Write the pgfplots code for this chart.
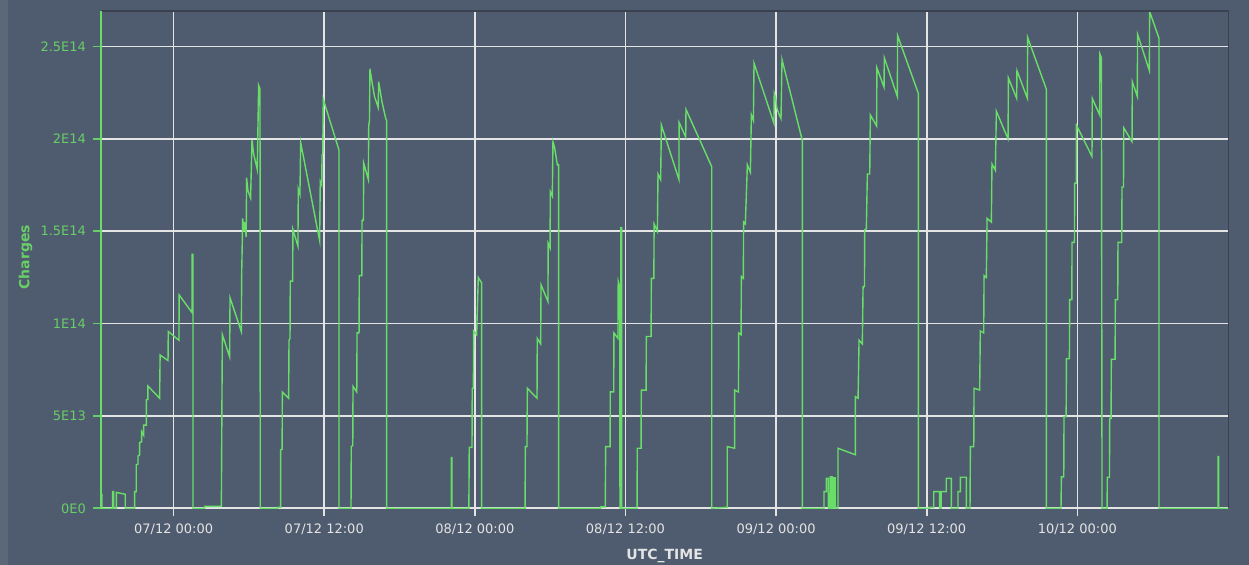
\documentclass[border=0pt]{standalone}
\usepackage{pgfplots}
\pgfplotsset{compat=1.18}
\usepackage{fontspec}
\setmainfont{DejaVu Sans}

\definecolor{panel}{RGB}{79,91,110}
\definecolor{paneledge}{RGB}{92,103,120}
\definecolor{chargegreen}{RGB}{104,222,104}
\definecolor{labelgreen}{RGB}{104,206,104}
\definecolor{gridwhite}{RGB}{228,228,228}
\definecolor{framedark}{RGB}{58,66,80}

\begin{document}
\begin{tikzpicture}
\useasboundingbox (0,0) rectangle (624.5pt,282.5pt);
\fill[panel] (0,0) rectangle (624.5pt,282.5pt);
\fill[paneledge] (0,0) rectangle (4pt,282.5pt);
\begin{axis}[
  at={(50.5pt,28.35pt)}, anchor=south west,
  width=563.65pt, height=248.65pt, scale only axis,
  xmin=-5.79, xmax=84.03, ymin=0, ymax=26.93,
  clip mode=individual,
  axis line style={draw=none},
  xtick={0,12,24,36,48,60,72},
  xticklabels={07/12 00:00,07/12 12:00,08/12 00:00,08/12 12:00,09/12 00:00,09/12 12:00,10/12 00:00},
  ytick={0,5,10,15,20,25},
  yticklabels={0E0,5E13,1E14,1.5E14,2E14,2.5E14},
  xtick pos=bottom, ytick pos=left,
  tick align=outside,
  major tick length=4pt,
  xtick style={draw=gridwhite, line width=0.8pt},
  ytick style={draw=labelgreen, line width=0.8pt},
  grid=major,
  major grid style={draw=gridwhite, line width=0.8pt},
  ticklabel style={font=\fontsize{6.5}{7.5}\selectfont},
  xticklabel style={text=gridwhite},
  yticklabel style={text=labelgreen},
  xlabel={UTC\_TIME}, ylabel={Charges},
  xlabel style={font=\bfseries\fontsize{7}{8}\selectfont, text=gridwhite,
    at={(axis description cs:0.5,-0.096)}, anchor=center},
  ylabel style={font=\bfseries\fontsize{7}{8}\selectfont, text=labelgreen,
    at={(axis description cs:-0.067,0.505)}, anchor=center},
]
\addplot[chargegreen, line width=0.7pt, sharp plot] coordinates {
(-5.79,0.76)(-5.71,0.76)(-5.71,0)
(-4.86,0)(-4.86,0.9)(-4.78,0.9)(-4.78,0)
(-4.57,0)(-4.57,0.86)(-3.86,0.76)(-3.86,0)
(-3.11,0)(-3.11,0.9)(-2.98,0.9)(-2.98,2.35)(-2.84,2.4)(-2.84,2.83)(-2.71,2.9)(-2.71,3.56)(-2.55,3.6)(-2.55,4.15)(-2.39,3.95)(-2.39,4.5)(-2.18,4.5)(-2.18,5.87)(-2.05,5.9)(-2.05,6.62)(-1.12,5.96)(-1.08,8.3)(-0.45,8.0)(-0.43,9.57)(0.42,9.1)(0.44,11.55)(1.46,10.6)(1.46,13.75)(1.54,13.75)(1.54,0)
(2.47,0)(2.47,0.1)(3.80,0.1)(3.85,6.26)(3.88,9.4)(4.46,8.2)(4.49,11.4)(5.39,9.57)(5.42,12.7)(5.50,15.7)(5.58,15.0)(5.64,15.5)(5.78,14.7)(5.81,17.9)(5.92,17.2)(6.13,16.8)(6.24,19.95)(6.37,19.2)(6.66,18.35)(6.77,22.9)(6.88,22.7)(6.90,0)
(8.26,0)(8.26,0.05)(8.52,0.05)(8.52,3.16)(8.64,3.2)(8.66,6.3)(9.16,5.96)(9.19,9.1)(9.27,9.2)(9.29,12.3)(9.48,12.3)(9.50,15.1)(9.90,14.2)(9.93,17.3)(10.06,17.0)(10.12,19.8)(11.63,14.5)(11.68,17.7)(11.80,17.5)(11.82,19.1)(11.88,19.2)(11.92,22.15)(13.17,19.4)(13.17,0)
(14.13,0)(14.15,3.34)(14.27,3.4)(14.29,6.6)(14.59,6.3)(14.61,9.5)(14.77,9.5)(14.79,12.6)(14.99,12.6)(15.01,15.6)(15.12,15.6)(15.14,18.7)(15.51,17.8)(15.54,20.7)(15.60,21.0)(15.64,23.8)(15.8,23.1)(16.0,22.3)(16.3,21.7)(16.33,23.1)(16.6,22.0)(16.9,21.1)(16.97,21.0)(16.97,0)
(22.12,0)(22.12,2.75)(22.17,2.75)(22.17,0)(23.52,0)(23.55,3.3)(23.77,3.3)(23.79,6.5)(23.88,6.5)(23.90,9.6)(24.14,9.4)(24.27,12.5)(24.54,12.2)(24.54,0)
(28.00,0)(28.02,3.34)(28.15,3.34)(28.18,6.5)(28.95,5.96)(28.97,9.2)(29.24,8.9)(29.27,12.1)(29.82,11.2)(29.84,14.35)(29.99,14.1)(30.01,17.15)(30.17,16.9)(30.22,19.85)(30.36,19.5)(30.57,18.6)(30.67,18.6)(30.67,0)
(34.02,0)(34.02,0.08)(34.39,0.08)(34.42,3.34)(34.77,3.34)(34.79,6.3)(35.06,6.3)(35.08,9.5)(35.40,9.2)(35.42,12.3)(35.54,12.0)(35.56,0)(35.62,0)(35.62,15.2)(35.70,15.2)(35.70,0)
(36.92,0)(36.94,3.25)(37.24,3.25)(37.26,6.4)(37.64,6.4)(37.66,9.3)(38.04,9.3)(38.06,12.45)(38.26,12.45)(38.28,15.4)(38.54,15.0)(38.59,18.1)(38.80,17.8)(38.86,20.75)(40.26,17.8)(40.27,20.9)(40.80,20.1)(40.82,21.6)(42.87,18.5)(42.87,0)
(44.03,0.05)(44.11,0.05)(44.11,3.34)(44.70,3.25)(44.70,6.4)(45.00,6.3)(45.02,9.5)(45.21,9.4)(45.23,12.55)(45.39,12.45)(45.41,15.5)(45.55,15.4)(45.71,18.6)(45.95,18.2)(46.03,21.3)(46.19,21.0)(46.24,24.1)(47.83,20.85)(47.85,22.47)(47.97,22.2)(48.05,21.7)(48.20,21.4)(48.39,21.1)(48.47,24.3)(50.06,20.0)(50.09,20.0)(50.09,0)
(51.82,0)(51.82,0.9)(52.00,0.9)(52.00,1.62)(52.16,1.62)(52.16,0)(52.30,0)(52.32,1.7)(52.36,1.7)(52.36,0)(52.40,0)(52.42,1.7)(52.46,1.7)(52.46,0)(52.50,0)(52.52,1.65)(52.58,1.65)(52.58,0)(52.62,1.65)(52.70,1.65)(52.72,0)(52.93,0)(52.93,3.25)(54.31,2.9)(54.31,6.05)(54.53,5.96)(54.61,9.1)(54.87,8.9)(54.93,12.0)(55.04,12.0)(55.06,15.07)(55.19,15.15)(55.27,18.1)(55.46,18.1)(55.51,21.3)(56.01,20.7)(56.03,23.85)(56.60,22.8)(56.62,24.4)(57.66,22.3)(57.68,25.6)(59.33,22.47)(59.33,0)
(60.24,0)(60.24,0.05)(60.56,0.05)(60.56,0.9)(61.03,0.9)(61.03,0)(61.16,0)(61.16,0.9)(61.56,0.9)(61.56,1.62)(61.96,1.62)(61.96,0)(62.49,0)(62.49,0.9)(62.68,0.9)(62.68,1.68)(63.16,1.68)(63.16,0)(63.45,0)(63.48,3.34)(63.75,3.34)(63.77,6.5)(64.22,6.4)(64.27,9.6)(64.54,9.5)(64.57,12.6)(64.75,12.5)(64.81,15.7)(65.15,15.5)(65.20,18.65)(65.47,18.3)(65.55,21.5)(66.48,20.0)(66.51,23.3)(67.17,22.2)(67.19,23.7)(68.02,22.2)(68.04,25.5)(69.53,22.7)(69.53,0)
(70.70,0)(70.73,1.7)(70.92,1.7)(70.94,4.96)(71.11,4.96)(71.13,8.1)(71.37,8.1)(71.39,11.3)(71.56,11.3)(71.58,14.4)(71.77,14.4)(71.79,17.6)(71.91,17.6)(71.93,20.75)(73.17,19.05)(73.19,22.2)(73.78,21.3)(73.80,24.6)(73.92,24.4)(73.97,0)
(74.37,0)(74.39,1.68)(74.56,1.68)(74.58,4.87)(74.69,4.87)(74.71,8.07)(75.01,8.07)(75.03,11.3)(75.22,11.3)(75.24,14.4)(75.54,14.4)(75.56,17.4)(75.68,17.4)(75.70,20.6)(76.36,19.85)(76.38,23.1)(76.78,22.3)(76.80,25.67)(77.74,23.7)(77.76,26.9)(78.51,25.45)(78.51,0)
(83.21,0)(83.21,2.8)(83.27,2.8)(83.27,0)(84.03,0)
};
\draw[framedark, line width=0.8pt] (rel axis cs:0,1) -- (rel axis cs:1,1) -- (rel axis cs:1,0);
\draw[chargegreen, line width=0.75pt] (rel axis cs:0,0) -- (rel axis cs:0,1);
\end{axis}
\end{tikzpicture}
\end{document}
